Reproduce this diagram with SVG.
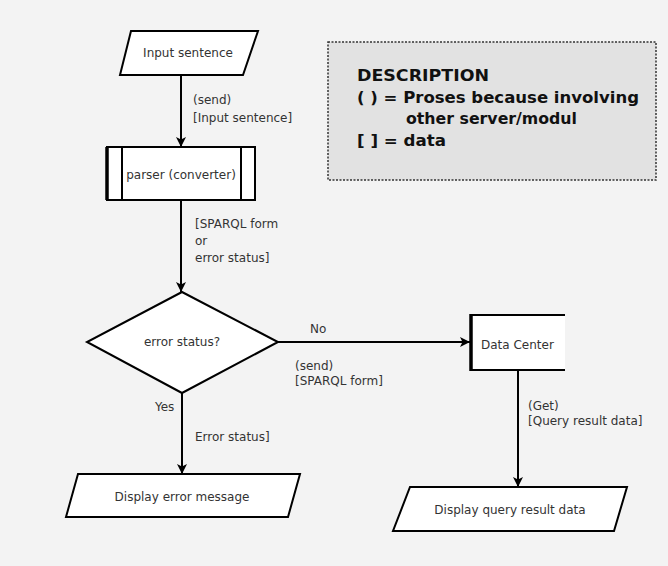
<svg xmlns="http://www.w3.org/2000/svg" width="668" height="566" viewBox="0 0 668 566">
<defs>
<marker id="ah" viewBox="0 0 10 10" refX="10" refY="5" markerWidth="5" markerHeight="5" orient="auto" markerUnits="strokeWidth">
<path d="M0,0 L10,5 L0,10 L2.5,5 z" fill="#000"/>
</marker>
<style>
.shape{fill:#fff;stroke:#000;stroke-width:2}
.t{font-family:"DejaVu Sans",Verdana,sans-serif;font-size:12px;fill:#333}
.c{text-anchor:middle}
.lbl{font-family:"DejaVu Sans",Verdana,sans-serif;font-size:12px;fill:#333}
.conn{fill:none;stroke:#000;stroke-width:2;marker-end:url(#ah)}
.d{font-family:"DejaVu Sans",Verdana,sans-serif;font-size:16px;font-weight:bold;fill:#111}
</style>
</defs>
<rect x="0" y="0" width="668" height="566" fill="#f3f3f3"/>

<g id="description">
<rect x="328" y="42" width="328" height="138" fill="#e2e2e2" stroke="#333" stroke-width="1.5" stroke-dasharray="2,1.5"/>
<text class="d" x="357" y="81" textLength="132" lengthAdjust="spacingAndGlyphs">DESCRIPTION</text>
<text class="d" x="357" y="103" textLength="282" lengthAdjust="spacingAndGlyphs">( ) = Proses because involving</text>
<text class="d" x="406" y="124" textLength="171" lengthAdjust="spacingAndGlyphs">other server/modul</text>
<text class="d" x="357" y="146" textLength="89" lengthAdjust="spacingAndGlyphs">[ ] = data</text>
</g>

<g id="input-sentence">
<polygon class="shape" points="131,31 258,31 243,75 120,75"/>
<text class="t c" x="188" y="57">Input sentence</text>
</g>

<g id="parser">
<rect class="shape" x="107" y="147" width="148" height="53"/>
<line x1="122" y1="147" x2="122" y2="200" stroke="#000" stroke-width="2"/>
<line x1="241" y1="147" x2="241" y2="200" stroke="#000" stroke-width="2"/>
<line x1="107" y1="147" x2="107" y2="200" stroke="#000" stroke-width="3.5"/>
<text class="t c" x="181" y="179">parser (converter)</text>
</g>

<g id="error-status">
<polygon class="shape" points="182,292 278,342 182,393 87,342"/>
<text class="t c" x="182" y="346">error status?</text>
</g>

<g id="data-center">
<polyline points="565,315 471,315 471,370 565,370" fill="#fff" stroke="#000" stroke-width="2"/>
<line x1="471" y1="314" x2="471" y2="371" stroke="#000" stroke-width="3.5"/>
<text class="t" x="481" y="349">Data Center</text>
</g>

<g id="display-error">
<polygon class="shape" points="78,474 300,474 288,517 66,517"/>
<text class="t c" x="182" y="501">Display error message</text>
</g>

<g id="display-result">
<polygon class="shape" points="410,487 627,487 614,531 393,531"/>
<text class="t c" x="510" y="514">Display query result data</text>
</g>

<g id="connectors">
<line class="conn" x1="181" y1="75" x2="181" y2="147"/>
<line class="conn" x1="181" y1="200" x2="181" y2="292"/>
<line class="conn" x1="278" y1="342" x2="470" y2="342"/>
<line class="conn" x1="182" y1="393" x2="182" y2="474"/>
<line class="conn" x1="518" y1="370" x2="518" y2="487"/>
<text class="lbl" x="193" y="104">(send)</text>
<text class="lbl" x="193" y="122">[Input sentence]</text>
<text class="lbl" x="195" y="228">[SPARQL form</text>
<text class="lbl" x="195" y="245">or</text>
<text class="lbl" x="195" y="262">error status]</text>
<text class="lbl" x="310" y="333">No</text>
<text class="lbl" x="295" y="370">(send)</text>
<text class="lbl" x="295" y="385">[SPARQL form]</text>
<text class="lbl" x="155" y="411">Yes</text>
<text class="lbl" x="195" y="441">Error status]</text>
<text class="lbl" x="528" y="410">(Get)</text>
<text class="lbl" x="528" y="425">[Query result data]</text>
</g>
</svg>
